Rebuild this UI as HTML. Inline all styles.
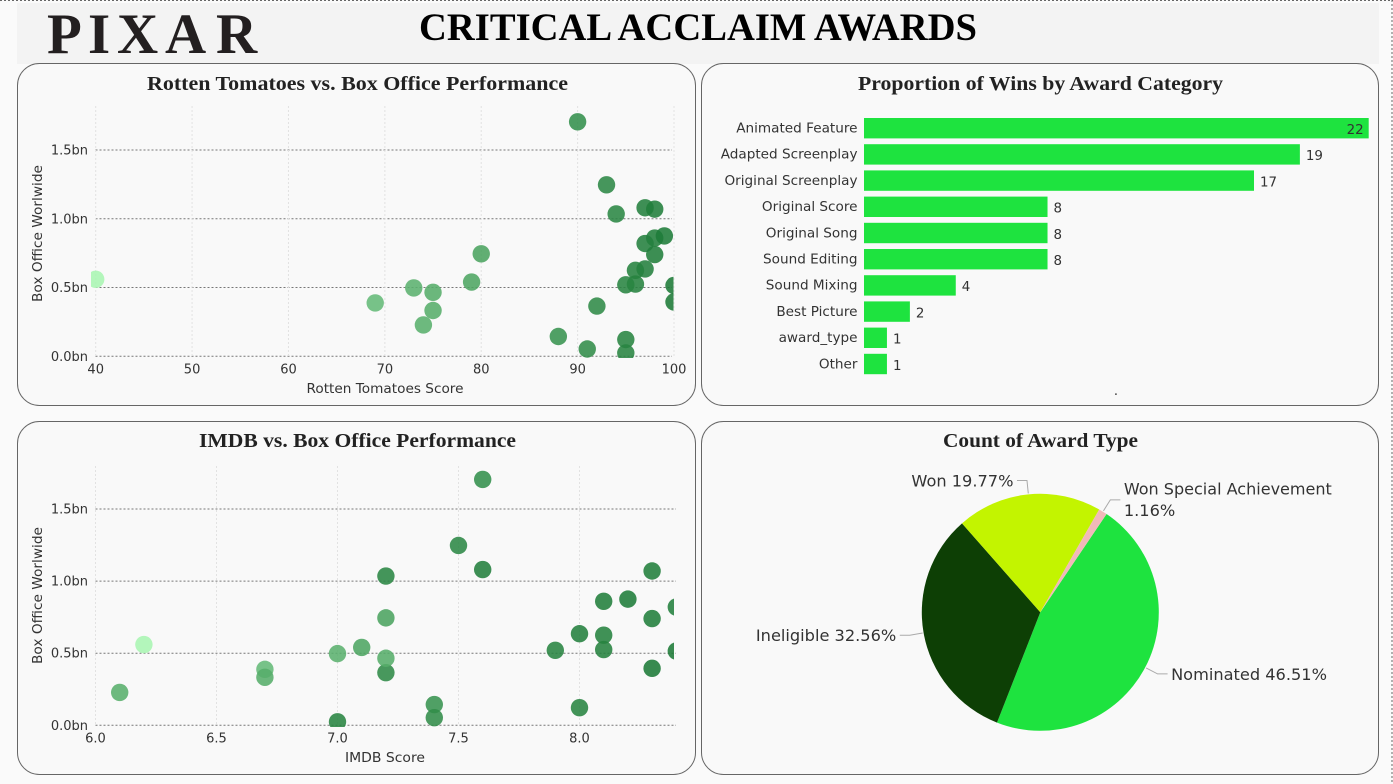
<!DOCTYPE html>
<html lang="en">
<head>
<meta charset="utf-8">
<title>Critical Acclaim Awards</title>
<style>
html,body{margin:0;padding:0;background:#fafafa;width:1393px;height:784px;overflow:hidden}
svg{display:block}
.serif{font-family:"Liberation Serif",serif;font-weight:bold}
.sans{font-family:"DejaVu Sans",sans-serif}
.tick{font-size:13px;fill:#333}
.axt{font-size:13px;fill:#333}
.card-title{font-size:20px;fill:#222;text-anchor:middle}
</style>
</head>
<body>
<svg id="dash" width="1393" height="784" viewBox="0 0 1393 784" xmlns="http://www.w3.org/2000/svg">
  <defs>
    <clipPath id="clipA"><rect x="91" y="100" width="582.5" height="258"/></clipPath>
    <clipPath id="clipB"><rect x="91" y="460" width="583" height="267"/></clipPath>
  </defs>
  <rect x="0" y="0" width="1393" height="784" fill="#fafafa"/>
  <line x1="0" y1="0.5" x2="1393" y2="0.5" stroke="#666" stroke-dasharray="2 2"/>
  <line x1="1392" y1="0" x2="1392" y2="784" stroke="#666" stroke-dasharray="2 2"/>
  <rect x="17" y="3" width="1362" height="61" fill="#f3f3f3"/>
  <text class="serif" x="47 88 117 165 216" y="53" font-size="57" fill="#231f20">PIXAR</text>
  <text class="serif" x="419" y="40" font-size="39" fill="#000" textLength="558" lengthAdjust="spacingAndGlyphs">CRITICAL ACCLAIM AWARDS</text>

  <rect x="17.5" y="63.5" width="678" height="342" rx="22" fill="#f9f9f9" stroke="#666"/>
  <rect x="701.5" y="63.5" width="677" height="342" rx="22" fill="#f9f9f9" stroke="#666"/>
  <rect x="17.5" y="421.5" width="678" height="353" rx="22" fill="#f9f9f9" stroke="#666"/>
  <rect x="701.5" y="421.5" width="677" height="353" rx="22" fill="#f9f9f9" stroke="#666"/>

  <text class="serif card-title" x="357.5" y="90" textLength="421" lengthAdjust="spacingAndGlyphs">Rotten Tomatoes vs. Box Office Performance</text>
  <text class="serif card-title" x="1040.5" y="90" textLength="365" lengthAdjust="spacingAndGlyphs">Proportion of Wins by Award Category</text>
  <text class="serif card-title" x="357.5" y="447" textLength="317" lengthAdjust="spacingAndGlyphs">IMDB vs. Box Office Performance</text>
  <text class="serif card-title" x="1040.5" y="447" textLength="195" lengthAdjust="spacingAndGlyphs">Count of Award Type</text>

  <text class="sans axt" x="385" y="393" text-anchor="middle" textLength="157" lengthAdjust="spacingAndGlyphs">Rotten Tomatoes Score</text>
  <text class="sans axt" transform="translate(42 233.5) rotate(-90)" text-anchor="middle" textLength="137" lengthAdjust="spacingAndGlyphs">Box Office Worlwide</text>
  <text class="sans axt" x="385" y="762" text-anchor="middle" textLength="80" lengthAdjust="spacingAndGlyphs">IMDB Score</text>
  <text class="sans axt" transform="translate(42 595.5) rotate(-90)" text-anchor="middle" textLength="137" lengthAdjust="spacingAndGlyphs">Box Office Worlwide</text>
  <text class="sans" x="1116" y="395" font-size="13" fill="#333" text-anchor="middle">.</text>

  <g id="chartRT"></g>
  <g id="chartIMDB"></g>
  <g id="chartBars"></g>
  <g id="chartPie"></g>
</svg>

<script>
// Shared film values, one entry per film
const boxOffice = [1.705,1.247,1.08,1.035,1.07,0.86,0.875,0.82,0.74,0.745,0.635,0.625,0.525,0.52,0.515,0.395,0.365,0.54,0.497,0.465,0.388,0.333,0.228,0.56,0.144,0.053,0.122,0.024];
const rtScores  = [90,93,97,94,98,98,99,97,98,80,97,96,96,95,100,100,92,79,73,75,69,75,74,40,88,91,95,95];
const imdbScores= [7.6,7.5,7.6,7.2,8.3,8.1,8.2,8.4,8.3,7.2,8.0,8.1,8.1,7.9,8.4,8.3,7.2,7.1,7.0,7.2,6.7,6.7,6.1,6.2,7.4,7.4,8.0,7.0];

// Axis ticks
const yTicks = [0,0.5,1.0,1.5];
const yTickLabels = ["0.0bn","0.5bn","1.0bn","1.5bn"];
const rtTicks = [40,50,60,70,80,90,100];
const imdbTicks = [6.0,6.5,7.0,7.5,8.0];
const imdbTickLabels = ["6.0","6.5","7.0","7.5","8.0"];

// Award category bars
const categories = ["Animated Feature","Adapted Screenplay","Original Screenplay","Original Score","Original Song","Sound Editing","Sound Mixing","Best Picture","award_type","Other"];
const categoryWins = [22,19,17,8,8,8,4,2,1,1];

// Award type pie
const awardTypes = ["Nominated","Ineligible","Won","Won Special Achievement"];
const awardCounts = [40,28,17,1];
const pieColors = ["#1ee33f","#0d3f05","#c3f400","#f1b9b9"];

const NS = "http://www.w3.org/2000/svg";
function mk(tag, attrs, parent, txt){
  const el = document.createElementNS(NS, tag);
  for (const k in attrs) el.setAttribute(k, attrs[k]);
  if (txt !== undefined) el.textContent = txt;
  parent.appendChild(el);
  return el;
}
function scale(d0,d1,r0,r1){ return v => r0 + (v-d0)/(d1-d0)*(r1-r0); }
function rtColor(rt){
  const t = Math.max(0, Math.min(1, (rt-40)/60));
  const c = (a,b) => Math.round(a + (b-a)*t);
  return "rgb(" + c(168,28) + "," + c(245,122) + "," + c(178,55) + ")";
}

function scatter(root, cfg){
  const x = cfg.x, y = cfg.y;
  yTicks.forEach((t,i) => {
    const l = mk("line",{x1:95.5,x2:cfg.gridEnd,y1:y(t),y2:y(t),stroke:"#777","stroke-width":1,"stroke-dasharray":"2 2"},root);
    
    
    const lb = mk("text",{x:88,y:y(t)+4.5,"text-anchor":"end",class:"sans tick"},root,yTickLabels[i]);
    
    
  });
  cfg.ticks.forEach((t,i) => {
    const l = mk("line",{x1:x(t),x2:x(t),y1:cfg.gridTop,y2:y(0),stroke:"#e2e2e2","stroke-width":1,"stroke-dasharray":"2 2"},root);
    
    
    const lb = mk("text",{x:x(t),y:y(0)+17,"text-anchor":"middle",class:"sans tick"},root,cfg.labels[i]);
    
    
  });
  const g = mk("g",{"clip-path":"url(#"+cfg.clip+")"},root);
  
  
  cfg.xs.forEach((v,i) => {
    const c = mk("circle",{cx:x(v),cy:y(boxOffice[i]),r:8.7,fill:rtColor(rtScores[i]),"fill-opacity":0.88},g);
    
    
  });
}

scatter(document.getElementById("chartRT"),{
  xs:rtScores, ticks:rtTicks, labels:rtTicks.map(String),
  x:scale(40,100,95.7,674), y:scale(0,1.5,356.3,150),
  gridEnd:672, gridTop:106, clip:"clipA"
});
scatter(document.getElementById("chartIMDB"),{
  xs:imdbScores, ticks:imdbTicks, labels:imdbTickLabels,
  x:scale(6,8,95.5,579.5), y:scale(0,1.5,725.3,509),
  gridEnd:676, gridTop:466, clip:"clipB"
});

// Bars
(function(){
  const root = document.getElementById("chartBars");
  const x = scale(0,22,864,1368.7);
  const top = 118, step = 26.2, h = 20.4;
  categories.forEach((name,i) => {
    const yy = top + i*step;
    const r = mk("rect",{x:864,y:yy,width:x(categoryWins[i])-864,height:h,fill:"#1ee33f"},root);
    
    
    const lb = mk("text",{x:857.5,y:yy+14.5,"text-anchor":"end",class:"sans",style:"font-size:13.6px;fill:#333"},root,name);
    
    
    const inside = x(categoryWins[i]) > 1340;
    const vx = inside ? x(categoryWins[i])-5 : x(categoryWins[i])+6;
    const vl = mk("text",{x:vx,y:yy+16,"text-anchor":inside?"end":"start",class:"sans",style:"font-size:13.4px;fill:#333"},root,String(categoryWins[i]));
    
    
  });
})();

// Pie
(function(){
  const root = document.getElementById("chartPie");
  const cx = 1040.3, cy = 612.3, R = 118.5;
  const total = awardCounts.reduce((a,b)=>a+b,0);
  const pt = (deg,r) => [cx + r*Math.sin(deg*Math.PI/180), cy - r*Math.cos(deg*Math.PI/180)];
  let a = 34;
  awardCounts.forEach((v,i) => {
    const sweep = v/total*360, b = a+sweep, mid = a+sweep/2;
    const p0 = pt(a,R), p1 = pt(b,R);
    const s = mk("path",{d:"M"+cx+" "+cy+"L"+p0[0]+" "+p0[1]+"A"+R+" "+R+" 0 "+(sweep>180?1:0)+" 1 "+p1[0]+" "+p1[1]+"Z",fill:pieColors[i]},root);
    
    
    const e0 = pt(mid,R+1), e1 = pt(mid,R+14);
    const m = ((mid%360)+360)%360;
    const right = m < 180;
    const ex = e1[0] + (right ? 10 : -10);
    const ln = mk("polyline",{points:e0[0]+","+e0[1]+" "+e1[0]+","+e1[1]+" "+ex+","+e1[1],fill:"none",stroke:"#aaa","stroke-width":1},root);
    
    
    const pct = (v/total*100).toFixed(2)+"%";
    const tx = ex + (right ? 3.5 : -3.5);
    const anchor = right ? "start" : "end";
    const st = "font-size:16.2px;fill:#333";
    if (awardTypes[i].length > 15){
      const t1 = mk("text",{x:tx,y:e1[1]-5.5,"text-anchor":anchor,class:"sans",style:st,textLength:208,lengthAdjust:"spacingAndGlyphs"},root,awardTypes[i]);
      
      
      const t2 = mk("text",{x:tx,y:e1[1]+16,"text-anchor":anchor,class:"sans",style:st},root,pct);
      
      
    } else {
      const t1 = mk("text",{x:tx,y:e1[1]+6,"text-anchor":anchor,class:"sans",style:st},root,awardTypes[i]+" "+pct);
      
      
    }
    a = b;
  });
})();
</script>
</body>
</html>
